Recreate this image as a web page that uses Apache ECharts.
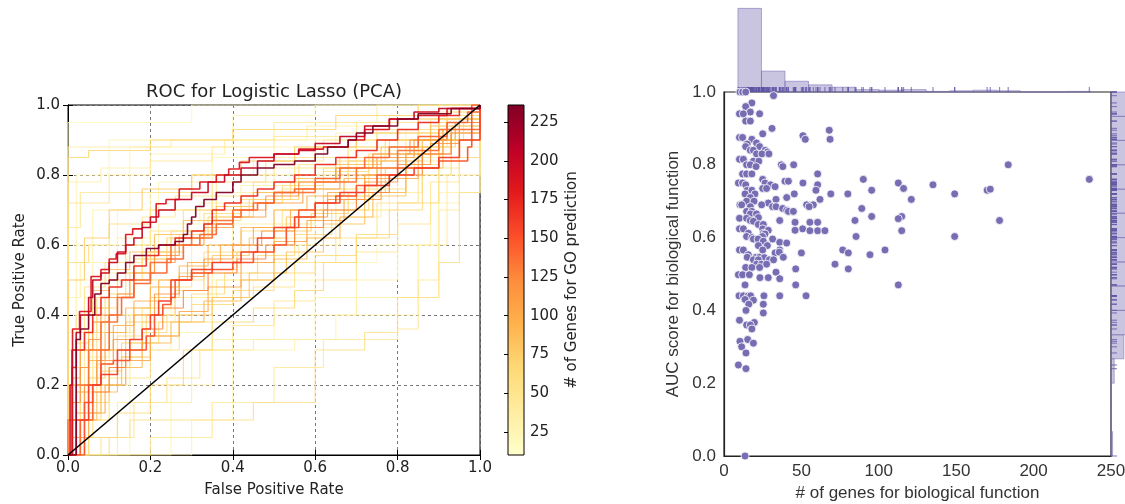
<!DOCTYPE html>
<html><head><meta charset="utf-8">
<script src="https://cdn.jsdelivr.net/npm/echarts@6/dist/echarts.min.js"></script>
<style>html,body{margin:0;padding:0;background:#fff}#c{width:1125px;height:504px}</style>
</head><body><div id="c"></div>
<script>
// ---------- Left panel: ROC curves (fpr at which tpr jumps, tpr after jump) ----------
const rocGenes = [20,22,24,26,28,30,32,34,36,38,40,42,44,46,48,50,52,54,56,58,60,62,64,66,68,70,72,75,78,82,86,90,95,100,105,110,115,120,128,135,140,150,160,170,185,200,235,
                  25,30,35,40,45,50,55,60,65,70,28,33];
const rocCurves = [
  [[0,0],[0,0.95],[0.3,1],[1,1]],
  [[0,0],[0.15,0.4],[0.25,0.45],[0.45,0.5],[0.6,0.55],[0.75,0.6],[0.9,0.8],[1,1]],
  [[0,0],[0.02,0.8],[0.1,0.9],[0.4,0.97],[0.6,1],[1,1]],
  [[0,0],[0.3,0.1],[0.4,0.3],[0.55,0.33],[0.65,0.4],[0.85,0.45],[0.9,0.75],[1,1]],
  [[0,0],[0,0.6],[0.06,0.7],[0.15,0.88],[0.4,0.9],[0.6,0.95],[0.85,1],[1,1]],
  [[0,0],[0.05,0.1],[0.1,0.2],[0.15,0.3],[0.25,0.35],[0.35,0.5],[0.5,0.6],[0.6,0.7],[0.8,0.85],[0.9,1],[1,1]],
  [[0,0],[0,0.45],[0.03,0.55],[0.1,0.6],[0.2,0.7],[0.35,0.75],[0.5,0.82],[0.7,0.9],[0.9,1],[1,1]],
  [[0,0],[0.02,0.25],[0.08,0.5],[0.12,0.62],[0.2,0.75],[0.3,0.8],[0.45,0.85],[0.6,0.9],[0.8,0.95],[1,1]],
  [[0,0],[0,0.3],[0.1,0.4],[0.22,0.45],[0.35,0.55],[0.5,0.62],[0.65,0.7],[0.78,0.8],[0.9,0.9],[1,1]],
  [[0,0],[0.12,0.15],[0.3,0.3],[0.45,0.33],[0.6,0.4],[0.7,0.45],[0.85,0.6],[0.92,0.8],[1,1]],
  [[0,0],[0,0.88],[0.25,0.9],[0.5,0.95],[0.75,1],[1,1]],
  [[0,0],[0.03,0.2],[0.06,0.35],[0.15,0.4],[0.2,0.5],[0.3,0.55],[0.4,0.6],[0.55,0.65],[0.65,0.75],[0.75,0.85],[0.88,0.95],[1,1]],
  [[0,0],[0.2,0.05],[0.35,0.15],[0.5,0.25],[0.62,0.33],[0.8,0.36],[0.85,0.5],[0.9,0.7],[0.95,0.9],[1,1]],
  [[0,0],[0,0.15],[0.04,0.4],[0.1,0.55],[0.18,0.68],[0.26,0.74],[0.36,0.8],[0.5,0.84],[0.62,0.9],[0.75,0.93],[0.9,0.97],[1,1]],
  [[0,0],[0.01,0.2],[0.05,0.28],[0.1,0.35],[0.16,0.42],[0.22,0.48],[0.3,0.52],[0.4,0.58],[0.5,0.66],[0.6,0.72],[0.7,0.8],[0.82,0.88],[0.92,0.95],[1,1]],
  [[0,0],[0,0.72],[0.1,0.75],[0.3,0.8],[0.55,0.85],[0.7,0.9],[0.88,0.96],[1,1]],
  [[0,0],[0.04,0.1],[0.1,0.22],[0.2,0.3],[0.27,0.38],[0.35,0.45],[0.45,0.48],[0.55,0.55],[0.65,0.62],[0.75,0.72],[0.85,0.82],[0.95,0.92],[1,1]],
  [[0,0],[0.02,0.4],[0.04,0.48],[0.09,0.55],[0.14,0.6],[0.2,0.64],[0.28,0.7],[0.36,0.74],[0.45,0.78],[0.56,0.83],[0.68,0.88],[0.8,0.93],[0.92,0.98],[1,1]],
  [[0,0],[0.1,0.05],[0.15,0.1],[0.45,0.15],[0.6,0.3],[0.72,0.35],[0.8,0.45],[0.9,0.55],[0.95,0.75],[1,1]],
  [[0,0],[0,0.55],[0.05,0.6],[0.1,0.66],[0.2,0.7],[0.35,0.78],[0.48,0.84],[0.6,0.88],[0.75,0.92],[0.9,0.97],[1,1]],
  [[0,0],[0.01,0.15],[0.03,0.3],[0.07,0.42],[0.12,0.5],[0.18,0.56],[0.25,0.62],[0.33,0.67],[0.42,0.72],[0.52,0.76],[0.62,0.82],[0.74,0.86],[0.85,0.92],[0.95,0.97],[1,1]],
  [[0,0],[0.03,0.1],[0.08,0.2],[0.13,0.28],[0.18,0.35],[0.24,0.4],[0.3,0.46],[0.38,0.52],[0.46,0.57],[0.55,0.63],[0.64,0.7],[0.73,0.76],[0.82,0.83],[0.9,0.9],[0.96,0.96],[1,1]],
  [[0,0],[0.02,0.25],[0.05,0.35],[0.09,0.45],[0.14,0.52],[0.2,0.58],[0.27,0.63],[0.35,0.68],[0.44,0.73],[0.54,0.78],[0.65,0.84],[0.77,0.9],[0.88,0.95],[1,1]],
  [[0,0],[0.05,0.05],[0.12,0.12],[0.2,0.2],[0.28,0.3],[0.35,0.38],[0.45,0.42],[0.55,0.47],[0.62,0.55],[0.7,0.62],[0.78,0.7],[0.86,0.8],[0.93,0.9],[1,1]],
  [[0,0],[0,0.85],[0.05,0.87],[0.2,0.9],[0.4,0.93],[0.65,0.97],[0.85,1],[1,1]],
  [[0,0],[0.01,0.2],[0.03,0.3],[0.06,0.38],[0.1,0.46],[0.15,0.52],[0.21,0.58],[0.28,0.64],[0.36,0.7],[0.45,0.75],[0.55,0.8],[0.66,0.85],[0.78,0.9],[0.9,0.96],[1,1]],
  [[0,0],[0.04,0.15],[0.08,0.24],[0.13,0.32],[0.19,0.4],[0.26,0.47],[0.33,0.53],[0.41,0.58],[0.5,0.64],[0.59,0.69],[0.68,0.75],[0.77,0.82],[0.86,0.88],[0.94,0.95],[1,1]],
  [[0,0],[0,0.5],[0.04,0.62],[0.1,0.7],[0.18,0.76],[0.3,0.8],[0.42,0.84],[0.55,0.88],[0.7,0.92],[0.85,0.96],[1,1]],
  [[0,0],[0.02,0.1],[0.05,0.22],[0.09,0.3],[0.14,0.38],[0.2,0.45],[0.27,0.52],[0.35,0.57],[0.44,0.62],[0.53,0.68],[0.62,0.74],[0.72,0.8],[0.82,0.86],[0.91,0.93],[1,1]],
  [[0,0],[0.01,0.05],[0.04,0.12],[0.08,0.2],[0.13,0.28],[0.2,0.34],[0.27,0.4],[0.35,0.45],[0.44,0.52],[0.53,0.58],[0.62,0.66],[0.72,0.74],[0.82,0.82],[0.91,0.9],[1,1]],
  [[0,0],[0.01,0.3],[0.03,0.4],[0.06,0.47],[0.1,0.53],[0.15,0.58],[0.21,0.63],[0.28,0.67],[0.36,0.71],[0.45,0.75],[0.55,0.79],[0.65,0.83],[0.76,0.88],[0.88,0.94],[1,1]],
  [[0,0],[0.03,0.1],[0.07,0.18],[0.12,0.25],[0.18,0.32],[0.25,0.38],[0.33,0.44],[0.42,0.5],[0.5,0.56],[0.58,0.62],[0.66,0.68],[0.74,0.75],[0.82,0.82],[0.9,0.9],[1,1]],
  [[0,0],[0.02,0.18],[0.05,0.27],[0.09,0.35],[0.14,0.42],[0.2,0.48],[0.27,0.54],[0.34,0.6],[0.42,0.65],[0.5,0.7],[0.58,0.74],[0.67,0.79],[0.76,0.84],[0.86,0.9],[0.94,0.95],[1,1]],
  [[0,0],[0.01,0.1],[0.04,0.2],[0.07,0.3],[0.11,0.37],[0.16,0.44],[0.22,0.5],[0.29,0.55],[0.37,0.6],[0.45,0.65],[0.54,0.7],[0.63,0.75],[0.72,0.8],[0.82,0.86],[0.91,0.93],[1,1]],
  [[0,0],[0.02,0.05],[0.05,0.12],[0.09,0.2],[0.14,0.27],[0.2,0.34],[0.27,0.41],[0.34,0.48],[0.42,0.55],[0.5,0.61],[0.58,0.67],[0.67,0.73],[0.76,0.79],[0.85,0.86],[0.93,0.93],[1,1]],
  [[0,0],[0.01,0.22],[0.03,0.3],[0.06,0.38],[0.1,0.45],[0.15,0.5],[0.2,0.55],[0.26,0.6],[0.33,0.65],[0.4,0.68],[0.48,0.72],[0.57,0.76],[0.66,0.8],[0.75,0.85],[0.84,0.9],[0.92,0.95],[1,1]],
  [[0,0],[0.02,0.12],[0.04,0.2],[0.07,0.27],[0.11,0.33],[0.16,0.4],[0.21,0.46],[0.27,0.51],[0.33,0.56],[0.4,0.6],[0.47,0.64],[0.55,0.68],[0.63,0.73],[0.72,0.78],[0.8,0.83],[0.88,0.89],[0.95,0.95],[1,1]],
  [[0,0],[0.01,0.15],[0.03,0.25],[0.05,0.33],[0.08,0.4],[0.12,0.46],[0.16,0.52],[0.21,0.57],[0.27,0.62],[0.33,0.66],[0.4,0.7],[0.48,0.74],[0.56,0.78],[0.65,0.82],[0.74,0.86],[0.83,0.9],[0.92,0.95],[1,1]],
  [[0,0],[0.03,0.1],[0.06,0.18],[0.1,0.25],[0.14,0.3],[0.18,0.36],[0.23,0.42],[0.28,0.47],[0.34,0.52],[0.41,0.56],[0.48,0.6],[0.55,0.65],[0.62,0.7],[0.7,0.75],[0.78,0.8],[0.86,0.86],[0.93,0.92],[1,1]],
  [[0,0],[0,0.1],[0.02,0.2],[0.05,0.3],[0.08,0.38],[0.12,0.45],[0.16,0.5],[0.2,0.55],[0.25,0.6],[0.3,0.62],[0.35,0.67],[0.4,0.7],[0.45,0.72],[0.5,0.75],[0.6,0.78],[0.7,0.82],[0.8,0.87],[0.9,0.93],[1,1]],
  [[0,0],[0.03,0.1],[0.06,0.2],[0.08,0.3],[0.1,0.4],[0.13,0.45],[0.16,0.49],[0.2,0.52],[0.24,0.56],[0.28,0.6],[0.32,0.63],[0.36,0.66],[0.4,0.68],[0.42,0.7],[0.46,0.72],[0.5,0.75],[0.55,0.76],[0.6,0.79],[0.66,0.82],[0.72,0.85],[0.78,0.88],[0.85,0.91],[0.92,0.95],[0.97,0.98],[1,1]],
  [[0,0],[0.04,0.15],[0.06,0.2],[0.08,0.26],[0.11,0.27],[0.15,0.3],[0.19,0.34],[0.21,0.4],[0.23,0.43],[0.25,0.45],[0.26,0.5],[0.3,0.52],[0.35,0.53],[0.4,0.55],[0.45,0.58],[0.5,0.6],[0.53,0.65],[0.56,0.7],[0.6,0.72],[0.65,0.74],[0.7,0.77],[0.75,0.8],[0.8,0.82],[0.9,0.84],[0.97,0.88],[0.98,1],[1,1]],
  [[0,0],[0.02,0.1],[0.05,0.2],[0.08,0.23],[0.12,0.3],[0.15,0.33],[0.18,0.36],[0.2,0.4],[0.22,0.44],[0.25,0.5],[0.3,0.53],[0.35,0.55],[0.42,0.58],[0.46,0.62],[0.5,0.65],[0.55,0.68],[0.6,0.72],[0.66,0.75],[0.72,0.77],[0.78,0.8],[0.84,0.82],[0.9,0.85],[0.95,0.9],[1,1]],
  [[0,0],[0.01,0.25],[0.02,0.3],[0.04,0.35],[0.06,0.4],[0.08,0.45],[0.1,0.48],[0.13,0.5],[0.16,0.54],[0.19,0.57],[0.22,0.6],[0.26,0.62],[0.3,0.64],[0.33,0.66],[0.35,0.7],[0.38,0.72],[0.42,0.74],[0.46,0.76],[0.5,0.78],[0.55,0.8],[0.6,0.83],[0.65,0.85],[0.7,0.87],[0.75,0.9],[0.8,0.93],[0.85,0.95],[0.9,0.97],[0.95,0.99],[1,1]],
  [[0,0],[0.011,0.36],[0.028,0.41],[0.056,0.51],[0.08,0.53],[0.1,0.56],[0.117,0.575],[0.14,0.63],[0.157,0.646],[0.18,0.665],[0.214,0.718],[0.238,0.73],[0.27,0.76],[0.32,0.78],[0.36,0.8],[0.39,0.817],[0.416,0.836],[0.44,0.85],[0.5,0.86],[0.56,0.874],[0.62,0.88],[0.68,0.9],[0.72,0.93],[0.78,0.96],[0.85,0.97],[0.92,0.99],[1,1]],
  [[0,0],[0.005,0.2],[0.01,0.3],[0.02,0.35],[0.03,0.4],[0.05,0.45],[0.06,0.5],[0.08,0.52],[0.1,0.55],[0.12,0.58],[0.14,0.6],[0.16,0.62],[0.18,0.65],[0.2,0.68],[0.22,0.7],[0.26,0.73],[0.3,0.75],[0.34,0.78],[0.38,0.8],[0.42,0.82],[0.46,0.84],[0.5,0.86],[0.56,0.87],[0.6,0.89],[0.66,0.91],[0.72,0.94],[0.78,0.96],[0.84,0.98],[0.9,0.99],[1,1]],
  [[0,0],[0.02,0.33],[0.03,0.36],[0.05,0.4],[0.065,0.46],[0.08,0.49],[0.1,0.5],[0.12,0.52],[0.14,0.55],[0.16,0.57],[0.19,0.59],[0.22,0.6],[0.26,0.61],[0.28,0.63],[0.29,0.66],[0.3,0.68],[0.31,0.71],[0.33,0.73],[0.36,0.75],[0.4,0.78],[0.42,0.8],[0.46,0.82],[0.5,0.83],[0.55,0.84],[0.6,0.86],[0.63,0.88],[0.68,0.9],[0.7,0.92],[0.74,0.94],[0.8,0.96],[0.85,0.975],[0.93,0.99],[1,1]],
  [[0,0],[0,0.35],[0.02,0.5],[0.06,0.6],[0.12,0.7],[0.22,0.78],[0.35,0.85],[0.5,0.88],[0.65,0.92],[0.8,0.96],[1,1]],
  [[0,0],[0.01,0.3],[0.04,0.45],[0.08,0.52],[0.14,0.6],[0.22,0.66],[0.32,0.72],[0.42,0.77],[0.55,0.82],[0.68,0.87],[0.82,0.93],[1,1]],
  [[0,0],[0.02,0.15],[0.06,0.3],[0.12,0.4],[0.2,0.5],[0.3,0.6],[0.4,0.66],[0.5,0.7],[0.6,0.76],[0.7,0.82],[0.82,0.9],[0.92,0.96],[1,1]],
  [[0,0],[0.05,0.2],[0.1,0.3],[0.18,0.38],[0.26,0.45],[0.36,0.5],[0.46,0.55],[0.56,0.6],[0.66,0.68],[0.76,0.75],[0.86,0.84],[0.95,0.93],[1,1]],
  [[0,0],[0,0.65],[0.03,0.75],[0.1,0.8],[0.2,0.84],[0.35,0.88],[0.5,0.91],[0.7,0.95],[0.85,0.98],[1,1]],
  [[0,0],[0.08,0.05],[0.16,0.15],[0.24,0.22],[0.32,0.3],[0.4,0.37],[0.5,0.44],[0.6,0.5],[0.7,0.58],[0.8,0.66],[0.88,0.78],[0.95,0.9],[1,1]],
  [[0,0],[0.01,0.1],[0.03,0.18],[0.07,0.26],[0.12,0.34],[0.18,0.42],[0.25,0.5],[0.33,0.58],[0.42,0.64],[0.52,0.7],[0.62,0.76],[0.73,0.82],[0.84,0.88],[0.93,0.94],[1,1]],
  [[0,0],[0.03,0.35],[0.07,0.45],[0.12,0.52],[0.18,0.58],[0.25,0.64],[0.33,0.69],[0.42,0.73],[0.52,0.77],[0.62,0.81],[0.73,0.86],[0.85,0.92],[1,1]],
  [[0,0],[0.02,0.05],[0.06,0.15],[0.1,0.25],[0.15,0.32],[0.22,0.38],[0.3,0.43],[0.4,0.47],[0.5,0.52],[0.6,0.57],[0.7,0.63],[0.8,0.72],[0.9,0.85],[1,1]],
  [[0,0],[0,0.2],[0.02,0.32],[0.05,0.42],[0.1,0.5],[0.16,0.56],[0.24,0.62],[0.34,0.68],[0.45,0.73],[0.56,0.78],[0.68,0.84],[0.8,0.9],[0.92,0.96],[1,1]],
  [[0,0],[0.25,0.2],[0.35,0.33],[0.5,0.4],[0.6,0.45],[0.7,0.5],[0.8,0.6],[0.88,0.72],[0.95,0.88],[1,1]],
  [[0,0],[0,0.78],[0.08,0.82],[0.2,0.86],[0.38,0.9],[0.58,0.94],[0.78,0.97],[1,1]]
];
const colorbarRange = [10, 236];
const colorbarTicks = [25, 50, 75, 100, 125, 150, 175, 200, 225];

// ---------- Right panel: scatter + marginals ----------
const scatterGenes = [13.6,10.3,12,14,32,18,14,17,10,12.5,23,14,17,31,68,25,51,10,12,18,52.5,68.5,15,21,23,14,17,19,26.5,28,21,24.5,29,10,12.5,19,22.5,183.6,14.6,17,37,45,20.7,38,12,14.6,18,60.5,25,90,236,39.4,41.6,9.3,12,26.5,51,112.6,14,30,33,60.5,135,25,27.5,116,170,172,15,18,59.4,95.4,13.6,20,45.4,69,80,149,17,40.5,33.6,62,121,14.6,19.4,28.6,10.3,11.4,24.3,53.4,57.7,17,31.4,33.6,55,89,37.9,40.5,41.6,44.8,14.6,18,17,21,95.4,114.8,112.6,10,14.6,22.2,36,84.6,178,17,19,45.9,55.5,60.5,22.2,25.4,10,12.5,25,50.8,55.5,60.5,65.2,45.9,114.8,28.6,15.7,25.4,26.5,14.6,18,85.3,149,24.8,19,22,31.4,36,40.5,25.4,22.2,28,10,12.5,25,36,76.7,104,33,35.7,50,80.3,15.7,94.3,20.7,23,38.3,15,26,19,22.2,29.3,32,21,24.3,27.5,71.7,14,18,23,46.3,80.3,33.6,9.3,12,16.4,23.2,28.6,36,13.6,46.3,112.6,9.7,12.5,15.7,17.2,25.8,36,53,19,13.6,16,25.4,14.2,25.4,10,19.6,14.6,17,18,15.3,10.3,19,11.4,14.2,9.3,14.2];
const scatterAuc = [0.0,1.0,1.0,1.0,0.99,0.97,0.96,0.945,0.94,0.94,0.94,0.92,0.92,0.90,0.895,0.885,0.88,0.875,0.875,0.87,0.87,0.87,0.857,0.86,0.85,0.85,0.84,0.84,0.84,0.835,0.83,0.83,0.83,0.815,0.815,0.81,0.81,0.80,0.80,0.80,0.80,0.80,0.795,0.795,0.775,0.775,0.775,0.775,0.76,0.76,0.76,0.755,0.755,0.75,0.75,0.75,0.75,0.75,0.745,0.745,0.74,0.745,0.745,0.735,0.735,0.735,0.73,0.733,0.73,0.73,0.73,0.73,0.72,0.72,0.72,0.72,0.72,0.72,0.71,0.71,0.705,0.705,0.705,0.70,0.70,0.695,0.69,0.69,0.69,0.69,0.69,0.685,0.685,0.685,0.685,0.68,0.68,0.675,0.672,0.672,0.672,0.672,0.665,0.665,0.658,0.658,0.652,0.653,0.653,0.655,0.647,0.647,0.647,0.647,0.645,0.642,0.642,0.642,0.636,0.636,0.624,0.624,0.624,0.624,0.619,0.619,0.619,0.62,0.619,0.62,0.612,0.612,0.61,0.603,0.60,0.603,0.603,0.603,0.596,0.596,0.596,0.587,0.585,0.59,0.578,0.578,0.566,0.566,0.566,0.566,0.566,0.566,0.558,0.56,0.558,0.558,0.553,0.553,0.546,0.546,0.546,0.546,0.545,0.539,0.539,0.539,0.539,0.527,0.527,0.527,0.527,0.518,0.518,0.518,0.514,0.514,0.505,0.498,0.498,0.498,0.49,0.49,0.487,0.47,0.47,0.47,0.44,0.44,0.44,0.44,0.44,0.44,0.44,0.428,0.43,0.417,0.417,0.40,0.393,0.373,0.367,0.36,0.36,0.349,0.32,0.315,0.31,0.30,0.283,0.25,0.24];
const topHistEdges = [9,24.2,39.4,54.6,69.8,85,100.2,115.4,130.6,145.8,161,176.2,191.4,206.6,221.8,237];
const topHistCounts = [140,35,18,12,8,4,3,4,1,2,3,2,0,0,1];
const rightHistEdges = [0,0.067,0.133,0.2,0.267,0.333,0.4,0.467,0.533,0.6,0.667,0.733,0.8,0.867,0.933,1];
const rightHistCounts = [1,0,0,2,8,10,15,20,30,38,32,28,20,12,12];

// ---------- styling helpers ----------
const YlOrRd = ['#ffffcc','#ffeda0','#fed976','#feb24c','#fd8d3c','#fc4e2a','#e31a1c','#bd0026','#800026'];
function hexRgb(h){return [parseInt(h.slice(1,3),16),parseInt(h.slice(3,5),16),parseInt(h.slice(5,7),16)];}
function cmap(v){
  let t=(v-colorbarRange[0])/(colorbarRange[1]-colorbarRange[0]);
  t=Math.max(0,Math.min(1,t));
  const p=t*(YlOrRd.length-1);
  const i=Math.min(Math.floor(p),YlOrRd.length-2);
  const f=p-i;
  const a=hexRgb(YlOrRd[i]), b=hexRgb(YlOrRd[i+1]);
  return 'rgb('+a.map((c,k)=>Math.round(c+(b[k]-c)*f)).join(',')+')';
}
const LF='DejaVu Sans', RF='Liberation Sans';
const PURPLE='#776db3';

const chart = echarts.init(document.getElementById('c'), null, {renderer:'canvas'});

// draw low gene counts first, high gene counts on top
const rocOrder = rocGenes.map((g,i)=>i).sort((a,b)=>rocGenes[a]-rocGenes[b]);
const rocSeries = rocOrder.map((i,k)=>({
  type:'line', xAxisIndex:0, yAxisIndex:0, step:'end', data:rocCurves[i],
  symbol:'none', showSymbol:false, silent:true, z:2, zlevel:0,
  lineStyle:{color:cmap(rocGenes[i]), width: rocGenes[i]>=130?1.6:1.2, opacity: rocGenes[i]>=130?0.95:0.85}
}));

const option = {
  animation:false,
  backgroundColor:'#fff',
  grid:[
    {left:68, top:105, width:412, height:350, show:true, borderColor:'#000', borderWidth:1, outerBoundsMode:'none'},
    {left:508, top:105, width:16, height:350, outerBoundsMode:'none'},
    {left:724, top:92, width:387, height:364, show:true, borderColor:'#222', borderWidth:1.2, outerBoundsMode:'none'},
    {left:724, top:0, width:387, height:92, outerBoundsMode:'none'},
    {left:1111, top:92, width:80, height:364, outerBoundsMode:'none'}
  ],
  xAxis:[
    {gridIndex:0, type:'value', min:0, max:1, interval:0.2,
     axisLine:{show:true, lineStyle:{color:'#000', width:1}},
     axisTick:{show:true, inside:true, length:5, lineStyle:{color:'#000'}},
     axisLabel:{formatter:v=>v.toFixed(1), fontSize:15, color:'#222', fontFamily:LF, margin:6},
     splitLine:{show:true, lineStyle:{type:[3,3], color:'#555', width:0.8}},
     name:'False Positive Rate', nameLocation:'middle', nameGap:28,
     nameTextStyle:{fontSize:15, color:'#222', fontFamily:LF}},
    {gridIndex:0, type:'value', position:'top', min:0, max:1, interval:0.2,
     axisLine:{show:true, lineStyle:{color:'#000', width:1}},
     axisTick:{show:true, inside:true, length:5, lineStyle:{color:'#000'}},
     axisLabel:{show:false}, splitLine:{show:false},
     name:'ROC for Logistic Lasso (PCA)', nameLocation:'middle', nameGap:4,
     nameTextStyle:{fontSize:18, color:'#222', fontFamily:LF}},
    {gridIndex:1, type:'value', min:0, max:1, show:false},
    {gridIndex:2, type:'value', min:0, max:250, interval:50,
     axisLine:{show:true, lineStyle:{color:'#222', width:1.2}},
     axisTick:{show:false},
     axisLabel:{fontSize:17, color:'#333', fontFamily:RF, margin:7},
     splitLine:{show:false},
     name:'# of genes for biological function', nameLocation:'middle', nameGap:26,
     nameTextStyle:{fontSize:17, color:'#333', fontFamily:RF}},
    {gridIndex:3, type:'value', min:0, max:250, show:false},
    {gridIndex:4, type:'value', min:0, max:50, show:false}
  ],
  yAxis:[
    {gridIndex:0, type:'value', min:0, max:1, interval:0.2,
     axisLine:{show:true, lineStyle:{color:'#000', width:1}},
     axisTick:{show:true, inside:true, length:5, lineStyle:{color:'#000'}},
     axisLabel:{formatter:v=>v.toFixed(1), fontSize:15, color:'#222', fontFamily:LF, margin:8},
     splitLine:{show:true, lineStyle:{type:[3,3], color:'#555', width:0.8}},
     name:'True Positive Rate', nameLocation:'middle', nameGap:40, nameRotate:90,
     nameTextStyle:{fontSize:15, color:'#222', fontFamily:LF}},
    {gridIndex:0, type:'value', position:'right', min:0, max:1, interval:0.2,
     axisLine:{show:true, lineStyle:{color:'#000', width:1}},
     axisTick:{show:true, inside:true, length:5, lineStyle:{color:'#000'}},
     axisLabel:{show:false}, splitLine:{show:false}},
    {gridIndex:1, type:'value', position:'right', min:colorbarRange[0], max:colorbarRange[1],
     axisLine:{show:false},
     axisTick:{show:true, inside:true, length:4, customValues:colorbarTicks, lineStyle:{color:'#000'}},
     axisLabel:{customValues:colorbarTicks, fontSize:15, color:'#222', fontFamily:LF, margin:6},
     splitLine:{show:false},
     name:'# of Genes for GO prediction', nameLocation:'middle', nameGap:41, nameRotate:90,
     nameTextStyle:{fontSize:15, color:'#222', fontFamily:LF}},
    {gridIndex:2, type:'value', min:0, max:1, interval:0.2,
     axisLine:{show:true, lineStyle:{color:'#222', width:1.2}},
     axisTick:{show:false},
     axisLabel:{formatter:v=>v.toFixed(1), fontSize:17, color:'#333', fontFamily:RF, margin:8},
     splitLine:{show:false},
     name:'AUC score for biological function', nameLocation:'middle', nameGap:42, nameRotate:90,
     nameTextStyle:{fontSize:17, color:'#333', fontFamily:RF}},
    {gridIndex:3, type:'value', min:0, max:154, show:false},
    {gridIndex:4, type:'value', min:0, max:1, show:false}
  ],
  series:[
    ...rocSeries,
    {type:'line', xAxisIndex:0, yAxisIndex:0, data:[[0,0],[1,1]], symbol:'none', silent:true, z:5,
     lineStyle:{color:'#000', width:1.6}},
    {type:'custom', xAxisIndex:2, yAxisIndex:2, data:[[0, colorbarRange[0]]], silent:true,
     renderItem:(params, api)=>{
       const p0=api.coord([0, colorbarRange[1]]), p1=api.coord([1, colorbarRange[0]]);
       return {type:'rect', shape:{x:p0[0], y:p0[1], width:p1[0]-p0[0], height:p1[1]-p0[1]},
         style:{fill:new echarts.graphic.LinearGradient(0,1,0,0, YlOrRd.map((c,i)=>({offset:i/(YlOrRd.length-1), color:c}))),
                stroke:'#000', lineWidth:1}};
     }},
    {type:'custom', xAxisIndex:4, yAxisIndex:4, silent:true,
     data: topHistCounts.map((c,i)=>[topHistEdges[i], topHistEdges[i+1], c]),
     encode:{x:[0,1], y:2},
     renderItem:(params, api)=>{
       const p0=api.coord([api.value(0), api.value(2)]), p1=api.coord([api.value(1), 0]);
       return {type:'rect', shape:{x:p0[0], y:p0[1], width:p1[0]-p0[0], height:p1[1]-p0[1]},
         style:{fill:'rgba(119,109,179,0.4)', stroke:'rgba(119,109,179,0.55)', lineWidth:1}};
     }},
    {type:'custom', xAxisIndex:5, yAxisIndex:5, silent:true,
     data: rightHistCounts.map((c,i)=>[rightHistEdges[i], rightHistEdges[i+1], c]),
     encode:{x:2, y:[0,1]},
     renderItem:(params, api)=>{
       const p0=api.coord([0, api.value(1)]), p1=api.coord([api.value(2), api.value(0)]);
       return {type:'rect', shape:{x:p0[0], y:p0[1], width:p1[0]-p0[0], height:p1[1]-p0[1]},
         style:{fill:'rgba(119,109,179,0.4)', stroke:'rgba(119,109,179,0.55)', lineWidth:1}};
     }},
    {type:'scatter', xAxisIndex:4, yAxisIndex:4, silent:true, z:4,
     data: scatterGenes.map(g=>[g,0]), symbol:'rect', symbolSize:[1.2,5], symbolOffset:[0,-2.5],
     itemStyle:{color:'rgba(95,85,165,0.85)'}},
    {type:'scatter', xAxisIndex:5, yAxisIndex:5, silent:true, z:4,
     data: scatterAuc.map(a=>[0,a]), symbol:'rect', symbolSize:[6,1.2], symbolOffset:[3,0],
     itemStyle:{color:'rgba(95,85,165,0.85)'}},
    {type:'scatter', xAxisIndex:3, yAxisIndex:3, silent:true, clip:false, z:6,
     data: scatterGenes.map((g,i)=>[g, scatterAuc[i]]), symbolSize:8,
     itemStyle:{color:PURPLE, borderColor:'#fff', borderWidth:0.8, opacity:1}}
  ]
};
chart.setOption(option);
</script></body></html>
